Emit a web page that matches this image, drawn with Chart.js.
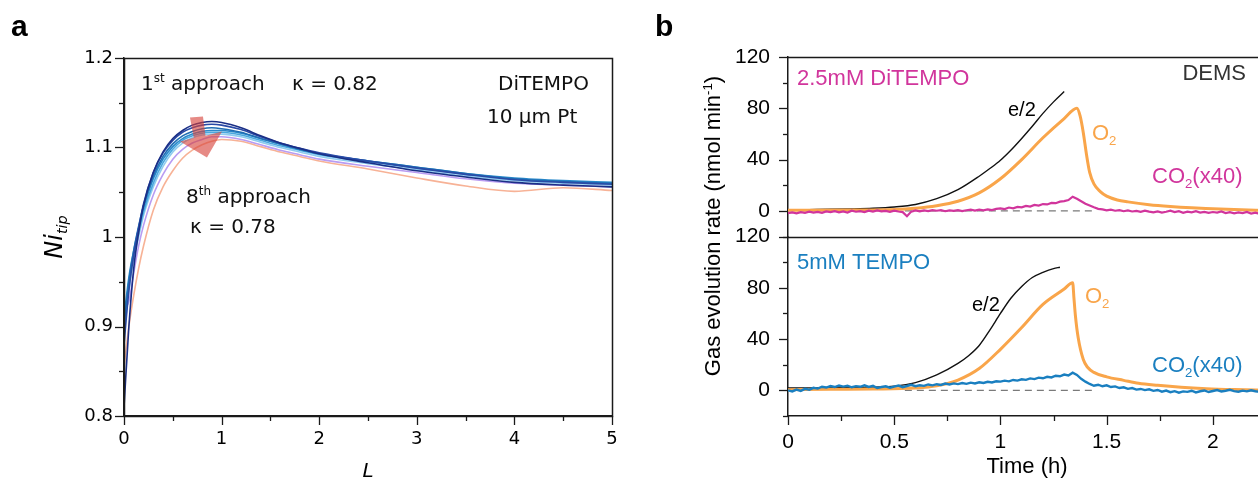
<!DOCTYPE html>
<html><head><meta charset="utf-8">
<script src="https://cdn.jsdelivr.net/npm/chart.js@4.4.0/dist/chart.umd.min.js"></script>
<style>
html,body{margin:0;padding:0;overflow:hidden;background:#fff;width:1258px;height:481px}
#wa{position:absolute;left:0;top:0;width:640px;height:481px}
#wb{position:absolute;left:640px;top:0;width:640px;height:481px}
canvas{display:block}
</style></head><body>
<div id="wa"><canvas id="ca" width="640" height="481"></canvas></div>
<div id="wb"><canvas id="cb" width="640" height="481"></canvas></div>
<script>
// ---------------- Panel a data ----------------
const approachL = [0,0.05,0.1,0.15,0.2,0.3,0.4,0.5,0.6,0.7,0.8,0.9,1.0,1.2,1.4,1.6,1.8,2.0,2.5,3.0,3.5,4.0,4.5,5.0];
const approach1 = [0.81,0.90,0.965,1.005,1.035,1.072,1.095,1.110,1.119,1.125,1.128,1.129,1.128,1.122,1.113,1.105,1.099,1.093,1.083,1.074,1.067,1.061,1.058,1.056];
const approach2 = [0.88,0.94,0.98,1.01,1.037,1.072,1.094,1.108,1.117,1.122,1.125,1.126,1.125,1.120,1.112,1.105,1.099,1.094,1.085,1.077,1.070,1.064,1.061,1.059];
const approach3 = [0.90,0.95,0.985,1.012,1.035,1.068,1.090,1.104,1.113,1.118,1.121,1.122,1.121,1.117,1.110,1.104,1.098,1.093,1.085,1.078,1.071,1.065,1.062,1.060];
const approach4 = [0.91,0.955,0.985,1.010,1.032,1.065,1.087,1.101,1.110,1.115,1.118,1.119,1.119,1.116,1.110,1.104,1.098,1.093,1.085,1.078,1.071,1.066,1.063,1.061];
const approach5 = [0.90,0.95,0.98,1.005,1.028,1.060,1.083,1.098,1.108,1.113,1.116,1.117,1.117,1.114,1.108,1.102,1.097,1.092,1.084,1.077,1.070,1.065,1.062,1.060];
const approach6 = [0.89,0.94,0.975,1.0,1.024,1.056,1.079,1.095,1.105,1.111,1.114,1.115,1.115,1.112,1.106,1.100,1.095,1.090,1.082,1.075,1.068,1.063,1.060,1.058];
const approach7 = [0.92,0.928,0.96,0.99,1.013,1.047,1.070,1.087,1.098,1.105,1.109,1.112,1.112,1.109,1.103,1.097,1.092,1.087,1.079,1.072,1.065,1.060,1.058,1.056];
const approach8 = [0.855,0.90,0.935,0.965,0.990,1.030,1.056,1.074,1.088,1.097,1.103,1.107,1.109,1.107,1.101,1.095,1.090,1.085,1.076,1.066,1.057,1.051,1.055,1.052];
const approachColors = ['#1b2f86','#2a4aa6','#1f6db3','#2a8acb','#4aa8de','#8fcbef','#b99cf2','#f7b296'];
const yTicksA = [0.8,0.9,1.0,1.1,1.2];
const yMinorA = [0.85,0.95,1.05,1.15];
const xTicksA = [0,1,2,3,4,5];
const xMinorA = [0.5,1.5,2.5,3.5,4.5];
// red arrow annotation (data units): shaft + head
const arrowL = [0.676,0.809,0.835,1.004,0.850,0.574,0.715];
const arrowV = [1.1335,1.1346,1.1130,1.1179,1.0888,1.1067,1.1110];

// ---------------- Panel b data ----------------
const co2Time = [0,0.02,0.04,0.06,0.08,0.10,0.12,0.14,0.16,0.18,0.20,0.22,0.24,0.26,0.28,0.30,0.32,0.34,0.36,0.38,0.40,0.42,0.44,0.46,0.48,0.50,0.52,0.54,0.56,0.58,0.60,0.62,0.64,0.66,0.68,0.70,0.72,0.74,0.76,0.78,0.80,0.82,0.84,0.86,0.88,0.90,0.92,0.94,0.96,0.98,1.00,1.02,1.04,1.06,1.08,1.10,1.12,1.14,1.16,1.18,1.20,1.22,1.24,1.26,1.28,1.30,1.32,1.34,1.36,1.38,1.40,1.42,1.44,1.46,1.48,1.50,1.52,1.54,1.56,1.58,1.60,1.62,1.64,1.66,1.68,1.70,1.72,1.74,1.76,1.78,1.80,1.82,1.84,1.86,1.88,1.90,1.92,1.94,1.96,1.98,2.00,2.02,2.04,2.06,2.08,2.10,2.12,2.14,2.16,2.18,2.20,2.22,2.24];
const co2DiTEMPO = [-1.8,-1.2,-2.0,-1.0,-1.5,-0.6,-1.4,-0.8,-1.6,-0.4,-1.0,-0.2,-1.1,-0.5,-1.3,0.1,-0.7,-0.2,-1.0,0.2,-0.6,0.3,-0.4,0.0,-0.8,0.2,-0.5,-1.0,-4.2,-0.6,0.3,-0.4,0.4,-0.2,0.6,0.1,0.5,-0.3,0.4,0.0,0.6,-0.2,0.5,0.9,0.2,1.0,0.4,1.2,0.6,1.5,1.9,1.4,2.6,2.0,3.1,2.7,3.8,3.3,4.6,4.1,5.3,5.0,6.2,6.0,7.2,7.6,8.4,11.0,9.4,7.5,5.6,4.2,2.8,1.6,1.2,0.4,0.9,0.1,0.6,-0.3,0.3,-0.5,0.0,-0.8,0.2,-0.6,-1.2,-0.4,-1.4,-0.7,0.1,-1.0,-0.3,-1.5,-0.6,-1.1,-0.2,-1.3,-0.8,-1.6,-0.9,-1.4,-0.5,-1.7,-1.0,-2.0,-1.2,-1.8,-0.9,-2.1,-1.4,-2.3,-1.6];
const co2TEMPO = [0.0,-0.8,0.6,-0.4,1.2,0.5,2.0,1.4,2.8,2.2,3.4,2.6,3.8,2.9,3.6,2.4,3.3,2.8,3.9,2.7,3.5,1.8,2.6,3.2,2.1,2.9,3.7,2.5,3.4,4.3,3.2,4.0,3.5,4.6,3.9,4.8,4.2,5.3,4.6,5.4,4.9,5.7,5.1,6.0,5.4,6.3,5.8,6.7,6.2,7.1,6.8,7.6,7.0,8.1,7.6,8.6,8.2,9.3,8.8,9.9,9.4,10.6,10.1,11.4,11.0,12.3,11.6,13.8,12.0,9.0,6.8,5.0,3.6,4.4,3.2,3.9,2.6,3.1,1.8,2.4,1.2,1.8,0.6,1.1,0.2,0.8,-0.4,0.3,-1.0,-0.2,-1.4,-0.6,-1.8,-0.8,-1.2,-0.3,-1.6,-0.7,-0.1,-1.3,-0.5,0.2,-0.9,-0.3,0.4,-0.6,-1.1,-0.2,-0.8,0.1,-0.7,-1.2,-0.5];
const o2TopTime = [0,0.3,0.5,0.6,0.7,0.8,0.9,1.0,1.1,1.2,1.3,1.36,1.375,1.39,1.405,1.42,1.44,1.47,1.5,1.55,1.6,1.7,1.8,1.9,2.0,2.1,2.25];
const o2Top = [0.5,0.6,1.0,2.0,4.0,7.5,14,25,40,57,72,80,74,61,44,30,21,15,11.5,8.5,7,4.8,3.4,2.4,1.7,1.0,0.3];
const o2BotTime = [0,0.2,0.4,0.6,0.7,0.8,0.9,1.0,1.1,1.2,1.3,1.34,1.346,1.353,1.366,1.39,1.41,1.44,1.5,1.58,1.65,1.74,1.85,1.97,2.1,2.25];
const o2Bot = [0.5,0.8,1.0,1.8,3.5,8,17,32,49,67,79,84,72,58,41,24,18,14,10.5,7.8,5.5,3.9,2.4,1.3,0.6,0.1];
const e2TopTime = [0,0.1,0.2,0.3,0.4,0.5,0.6,0.7,0.8,0.9,0.95,1.0,1.05,1.1,1.15,1.2,1.25,1.3];
const e2Top = [0.8,1.0,1.2,1.5,2.0,3.0,5.0,9.5,16.5,27,33,39.5,47.5,56.5,66,76,85,93];
const e2BotTime = [0,0.3,0.5,0.6,0.7,0.8,0.85,0.9,0.95,1.0,1.05,1.1,1.15,1.2,1.25,1.28];
const e2Bot = [1.8,2.2,3.3,6,12,21,27,35,47,60,72,81,88,92,95,96];
const zeroRefTime = [0.55,1.45];
const zeroRef = [0,0];
const yTicksB = [0,40,80,120];
const yMinorB = [-20,20,60,100];
const xTicksB = [0,0.5,1,1.5,2];
const xMinorB = [0.25,0.75,1.25,1.75];

const pts = (xs, ys) => xs.map((x, i) => ({x: x, y: ys[i]}));
const SANS = '"Liberation Sans", Arial, sans-serif';
const DJ = '"DejaVu Sans", sans-serif';

function rich(ctx, parts, x, y, fs, fam, style, color) {
  ctx.fillStyle = color; ctx.textAlign = 'left'; ctx.textBaseline = 'alphabetic';
  let cx = x;
  for (const [t, k] of parts) {
    const size = k === 0 ? fs : fs * 0.6;
    const dy = k === 1 ? -fs * 0.38 : (k === -1 ? fs * 0.22 : 0);
    ctx.font = `${style} ${size}px ${fam}`;
    ctx.fillText(t, cx, y + dy);
    cx += ctx.measureText(t).width;
  }
  return cx - x;
}
function richWidth(ctx, parts, fs, fam, style) {
  let w = 0;
  for (const [t, k] of parts) { ctx.font = `${style} ${k === 0 ? fs : fs * 0.6}px ${fam}`; w += ctx.measureText(t).width; }
  return w;
}
function drawTickMarks(chart, specs) {
  const ctx = chart.ctx; ctx.save(); ctx.strokeStyle = '#1a1a1a'; ctx.lineWidth = 1.3;
  for (const s of specs) {
    const sc = chart.scales[s.id];
    for (const [vals, len] of [[s.major, s.majLen], [s.minor, s.minLen]]) {
      for (const v of vals) {
        const p = Math.round(sc.getPixelForValue(v)) + 0.5;
        ctx.beginPath();
        if (sc.isHorizontal()) { ctx.moveTo(p, sc.top); ctx.lineTo(p, sc.top + len); }
        else { ctx.moveTo(sc.right, p); ctx.lineTo(sc.right - len, p); }
        ctx.stroke();
      }
    }
  }
  ctx.restore();
}

// ---------------- Panel a ----------------
const dsA = [approach1, approach2, approach3, approach4, approach5, approach6, approach7, approach8].map((arr, i) => ({
  data: pts(approachL, arr), borderColor: approachColors[i], borderWidth: 1.6, pointRadius: 0,
  cubicInterpolationMode: 'monotone', fill: false
}));
const tickFontA = {family: DJ, size: 18};
new Chart(document.getElementById('ca'), {
  type: 'line',
  data: {datasets: dsA},
  options: {
    responsive: false, animation: false, events: [],
    layout: {padding: {left: 0, right: 28, top: 58, bottom: 0}},
    plugins: {legend: {display: false}, tooltip: {enabled: false}},
    scales: {
      x: {type: 'linear', min: 0, max: 5,
        afterBuildTicks: s => { s.ticks = xTicksA.map(v => ({value: v})); },
        afterFit: s => { s.height = 65; },
        grid: {display: false, drawTicks: false},
        border: {display: true, color: '#1a1a1a', width: 1.5},
        ticks: {font: tickFontA, color: '#000', padding: 13, maxRotation: 0, callback: v => String(+(+v).toFixed(2))}},
      y: {type: 'linear', min: 0.8, max: 1.2,
        afterBuildTicks: s => { s.ticks = yTicksA.map(v => ({value: v})); },
        afterFit: s => { s.width = 124; },
        grid: {display: false, drawTicks: false},
        border: {display: true, color: '#1a1a1a', width: 1.5},
        ticks: {font: tickFontA, color: '#000', padding: 11, callback: v => String(+(+v).toFixed(2))}}
    }
  },
  plugins: [{
    id: 'decoA',
    afterDatasetsDraw(chart) {
      const ctx = chart.ctx, ca = chart.chartArea, sx = chart.scales.x, sy = chart.scales.y;
      ctx.save();
      ctx.fillStyle = 'rgba(214,66,58,0.62)';
      ctx.beginPath();
      ctx.moveTo(sx.getPixelForValue(arrowL[0]), sy.getPixelForValue(arrowV[0]));
      for (let i = 1; i < arrowL.length; i++) ctx.lineTo(sx.getPixelForValue(arrowL[i]), sy.getPixelForValue(arrowV[i]));
      ctx.closePath(); ctx.fill();
      ctx.restore();
      ctx.save(); ctx.strokeStyle = '#1a1a1a'; ctx.lineWidth = 1.5;
      ctx.strokeRect(Math.round(ca.left) + 0.5, Math.round(ca.top) + 0.5, Math.round(ca.right - ca.left), Math.round(ca.bottom - ca.top));
      ctx.restore();
      drawTickMarks(chart, [
        {id: 'x', major: xTicksA, minor: xMinorA, majLen: 9, minLen: 5},
        {id: 'y', major: yTicksA, minor: yMinorA, majLen: 9, minLen: 5}]);
    },
    afterDraw(chart) {
      const ctx = chart.ctx;
      ctx.save();
      rich(ctx, [['a', 0]], 11, 36, 30, SANS, 'bold', '#000');
      rich(ctx, [['1', 0], ['st', 1], [' approach', 0]], 141, 90, 20, DJ, 'normal', '#111');
      rich(ctx, [['κ = 0.82', 0]], 292, 90, 20, DJ, 'normal', '#111');
      rich(ctx, [['DiTEMPO', 0]], 498, 90, 20, DJ, 'normal', '#111');
      rich(ctx, [['10 μm Pt', 0]], 487, 123, 20, DJ, 'normal', '#111');
      rich(ctx, [['8', 0], ['th', 1], [' approach', 0]], 186, 203, 20, DJ, 'normal', '#111');
      rich(ctx, [['κ = 0.78', 0]], 190, 233, 20, DJ, 'normal', '#111');
      ctx.font = `italic 20px ${DJ}`; ctx.fillStyle = '#000'; ctx.textAlign = 'center'; ctx.textBaseline = 'alphabetic';
      ctx.fillText('L', 368, 477);
      const yParts = [['Ni', 0], ['tip', -1]];
      const w = richWidth(ctx, yParts, 24, DJ, 'italic');
      ctx.translate(62, 237); ctx.rotate(-Math.PI / 2);
      rich(ctx, yParts, -w / 2, 0, 24, DJ, 'italic', '#000');
      ctx.restore();
    }
  }]
});

// ---------------- Panel b ----------------
const MAG = '#d1359c', BLU = '#1a7fc0', ORG = '#f9a54a';
const tickFontB = {family: SANS, size: 21};
const lineDs = (xs, ys, color, w, axis, extra) => Object.assign({
  data: pts(xs, ys), borderColor: color, borderWidth: w, pointRadius: 0, yAxisID: axis,
  cubicInterpolationMode: 'monotone', fill: false
}, extra || {});
const yScaleB = () => ({
  type: 'linear', position: 'left', stack: 'b', stackWeight: 1, min: -20, max: 120,
  afterBuildTicks: s => { s.ticks = yTicksB.map(v => ({value: v})); },
  afterFit: s => { s.width = 148; },
  grid: {display: false, drawTicks: false},
  border: {display: true, color: '#1a1a1a', width: 1.5},
  ticks: {font: tickFontB, color: '#000', padding: 18}
});
new Chart(document.getElementById('cb'), {
  type: 'line',
  data: {datasets: [
    lineDs(co2Time, co2DiTEMPO, MAG, 2.2, 'yTop', {tension: 0, cubicInterpolationMode: 'default'}),
    lineDs(o2TopTime, o2Top, ORG, 3, 'yTop'),
    lineDs(e2TopTime, e2Top, '#111', 1.4, 'yTop'),
    lineDs(zeroRefTime, zeroRef, '#7a7a7a', 1.4, 'yTop', {borderDash: [7, 5]}),
    lineDs(co2Time, co2TEMPO, BLU, 2.4, 'yBot', {tension: 0, cubicInterpolationMode: 'default'}),
    lineDs(o2BotTime, o2Bot, ORG, 3, 'yBot'),
    lineDs(e2BotTime, e2Bot, '#111', 1.4, 'yBot'),
    lineDs(zeroRefTime, zeroRef, '#7a7a7a', 1.4, 'yBot', {borderDash: [7, 5]})
  ]},
  options: {
    responsive: false, animation: false, events: [],
    layout: {padding: {left: 0, right: 14, top: 57, bottom: 0}},
    plugins: {legend: {display: false}, tooltip: {enabled: false}},
    scales: {
      x: {type: 'linear', min: 0, max: 2.25,
        afterBuildTicks: s => { s.ticks = xTicksB.map(v => ({value: v})); },
        afterFit: s => { s.height = 65; },
        grid: {display: false, drawTicks: false},
        border: {display: true, color: '#1a1a1a', width: 1.5},
        ticks: {font: tickFontB, color: '#000', padding: 14, maxRotation: 0, callback: v => String(+(+v).toFixed(2))}},
      yBot: yScaleB(),
      yTop: yScaleB()
    }
  },
  plugins: [{
    id: 'decoB',
    afterDatasetsDraw(chart) {
      const ctx = chart.ctx, ca = chart.chartArea, yt = chart.scales.yTop;
      ctx.save(); ctx.strokeStyle = '#1a1a1a'; ctx.lineWidth = 1.5;
      const t0 = Math.round(yt.top) + 0.5, t1 = Math.round(yt.bottom) + 0.5;
      ctx.beginPath(); ctx.moveTo(ca.left, t0); ctx.lineTo(ca.right, t0); ctx.stroke();
      ctx.beginPath(); ctx.moveTo(ca.left, t1); ctx.lineTo(ca.right, t1); ctx.stroke();
      ctx.beginPath(); ctx.moveTo(Math.round(ca.right) + 0.5, ca.top); ctx.lineTo(Math.round(ca.right) + 0.5, ca.bottom); ctx.stroke();
      ctx.restore();
      drawTickMarks(chart, [
        {id: 'x', major: xTicksB, minor: xMinorB, majLen: 9, minLen: 5},
        {id: 'yTop', major: yTicksB, minor: yMinorB, majLen: 9, minLen: 5},
        {id: 'yBot', major: yTicksB, minor: yMinorB, majLen: 9, minLen: 5}]);
    },
    afterDraw(chart) {
      const ctx = chart.ctx;
      ctx.save();
      rich(ctx, [['b', 0]], 15, 36, 30, SANS, 'bold', '#000');
      rich(ctx, [['2.5mM DiTEMPO', 0]], 157, 85, 22, SANS, 'normal', MAG);
      ctx.font = `22px ${SANS}`; ctx.fillStyle = '#333'; ctx.textAlign = 'right'; ctx.fillText('DEMS', 606, 80);
      rich(ctx, [['e/2', 0]], 368, 116, 20, SANS, 'normal', '#000');
      rich(ctx, [['O', 0], ['2', -1]], 452, 140, 22, SANS, 'normal', ORG);
      rich(ctx, [['CO', 0], ['2', -1], ['(x40)', 0]], 512, 183, 22, SANS, 'normal', MAG);
      rich(ctx, [['5mM TEMPO', 0]], 157, 269, 22, SANS, 'normal', BLU);
      rich(ctx, [['e/2', 0]], 332, 311, 20, SANS, 'normal', '#000');
      rich(ctx, [['O', 0], ['2', -1]], 445, 303, 22, SANS, 'normal', ORG);
      rich(ctx, [['CO', 0], ['2', -1], ['(x40)', 0]], 512, 372, 22, SANS, 'normal', BLU);
      ctx.font = `22px ${SANS}`; ctx.fillStyle = '#000'; ctx.textAlign = 'center'; ctx.textBaseline = 'alphabetic';
      ctx.fillText('Time (h)', 387, 473);
      const yParts = [['Gas evolution rate (nmol min', 0], ['-1', 1], [')', 0]];
      const w = richWidth(ctx, yParts, 22, SANS, 'normal');
      ctx.translate(80, 226); ctx.rotate(-Math.PI / 2);
      rich(ctx, yParts, -w / 2, 0, 22, SANS, 'normal', '#000');
      ctx.restore();
    }
  }]
});
</script>
</body></html>
